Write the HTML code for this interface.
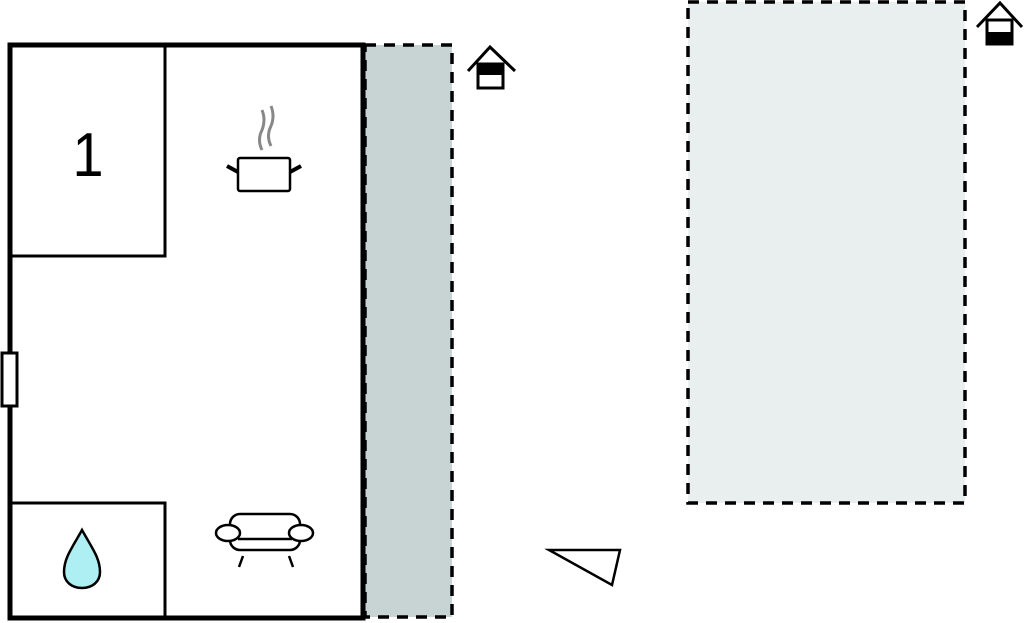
<html><body style="margin:0;background:#fff">
<svg width="1024" height="623" xmlns="http://www.w3.org/2000/svg">
<rect x="365" y="45" width="87" height="572" fill="#c8d4d4" stroke="#000" stroke-width="3.5" stroke-dasharray="11,8"/>
<rect x="688" y="2" width="277" height="501" fill="#e9eeee" stroke="#000" stroke-width="3.5" stroke-dasharray="11,8"/>
<rect x="10" y="45" width="353" height="573" fill="none" stroke="#000" stroke-width="5"/>
<rect x="10" y="45" width="155" height="211" fill="none" stroke="#000" stroke-width="3"/>
<rect x="10" y="503" width="155" height="115" fill="none" stroke="#000" stroke-width="3"/>
<rect x="2" y="353" width="15" height="53" fill="#fff" stroke="#000" stroke-width="3"/>
<text x="88" y="176" font-family="Liberation Sans, sans-serif" font-size="62" text-anchor="middle" transform="translate(88 0) scale(0.9 1) translate(-88 0)">1</text>
<path d="M262 150 q-5 -10 0 -20 q4 -10 0 -20 M271 146 q-5 -10 0 -20 q4 -10 0 -20" stroke="#888" stroke-width="3" fill="none"/>
<rect x="238" y="158" width="52" height="33" rx="2" fill="#fff" stroke="#000" stroke-width="2.5"/>
<path d="M227 166 L238 172 M301 166 L290 172" stroke="#000" stroke-width="4"/>
<path d="M82 530 C72 548 64 558 64 572 C64 582 72 588 82 588 C92 588 100 582 100 572 C100 558 92 548 82 530Z" fill="#aeeff3" stroke="#000" stroke-width="2.5"/>
<rect x="230" y="514" width="70" height="36" rx="10" fill="#fff" stroke="#000" stroke-width="2.5"/>
<line x1="238" y1="539" x2="292" y2="539" stroke="#000" stroke-width="2.5"/>
<ellipse cx="228" cy="533" rx="12" ry="8" fill="#fff" stroke="#000" stroke-width="2.5"/>
<ellipse cx="301" cy="533" rx="12" ry="8" fill="#fff" stroke="#000" stroke-width="2.5"/>
<path d="M243 556 L239 567 M289 556 L293 567" stroke="#000" stroke-width="2.5"/>
<path d="M468 71 L490 47 L515 71" fill="none" stroke="#000" stroke-width="3"/>
<rect x="478" y="64" width="25" height="24" fill="#fff" stroke="#000" stroke-width="3"/>
<rect x="478" y="64" width="25" height="11" fill="#000"/>
<path d="M977 27 L1000 3 L1022 27" fill="none" stroke="#000" stroke-width="3"/>
<rect x="987" y="20" width="25" height="24" fill="#fff" stroke="#000" stroke-width="3"/>
<rect x="987" y="32" width="25" height="12" fill="#000"/>
<polygon points="549,550 620,550 612,585" fill="#fff" stroke="#000" stroke-width="2.5"/>
</svg>
</body></html>
